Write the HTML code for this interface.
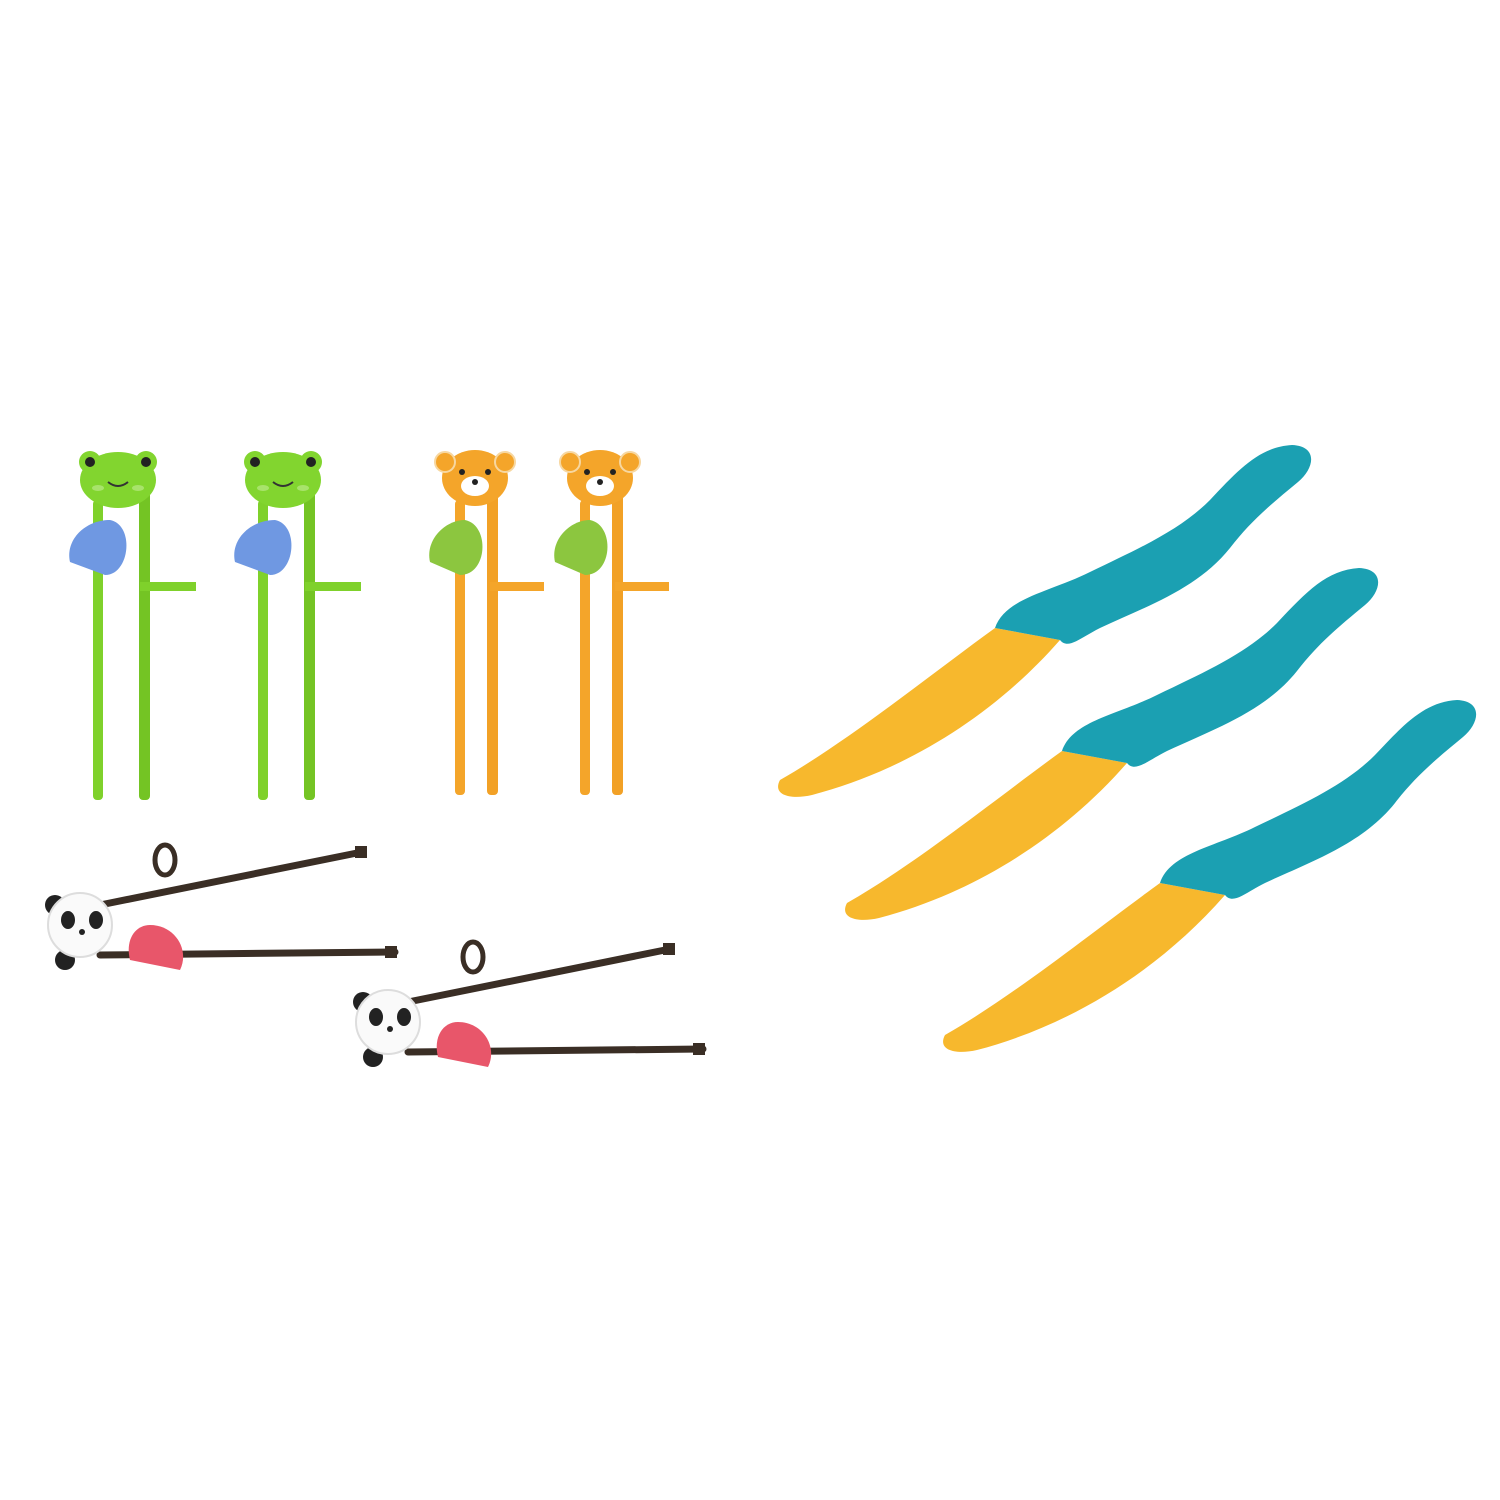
<!DOCTYPE html>
<html><head><meta charset="utf-8"><style>html,body{margin:0;padding:0;background:#fff}svg{display:block}</style></head>
<body>
<svg width="1500" height="1500" viewBox="0 0 1500 1500">
<rect width="1500" height="1500" fill="#fff"/>
<defs>
 <g id="frog">
  <rect x="93" y="500" width="10" height="300" rx="4" fill="#7fd12b"/>
  <rect x="139" y="490" width="11" height="310" rx="4" fill="#74c424"/>
  <rect x="140" y="582" width="56" height="9" fill="#7fd12b"/>
  <path d="M110,520 C135,525 130,575 105,575 L70,562 C65,540 85,520 110,520Z" fill="#6f98e2"/>
  <ellipse cx="118" cy="480" rx="38" ry="28" fill="#82d52f"/>
  <circle cx="90" cy="462" r="11" fill="#82d52f"/><circle cx="90" cy="462" r="5" fill="#222"/>
  <circle cx="146" cy="462" r="11" fill="#82d52f"/><circle cx="146" cy="462" r="5" fill="#222"/>
  <path d="M108,482 Q118,490 128,482" stroke="#333" stroke-width="2" fill="none"/>
  <ellipse cx="98" cy="488" rx="6" ry="3" fill="#a8e36b"/><ellipse cx="138" cy="488" rx="6" ry="3" fill="#a8e36b"/>
 </g>
 <g id="bear">
  <rect x="455" y="500" width="10" height="295" rx="4" fill="#f4a52a"/>
  <rect x="487" y="490" width="11" height="305" rx="4" fill="#f2a126"/>
  <rect x="490" y="582" width="54" height="9" fill="#f4a52a"/>
  <path d="M465,520 C490,525 488,575 460,575 L430,562 C425,540 445,520 465,520Z" fill="#8cc63f"/>
  <ellipse cx="475" cy="478" rx="33" ry="28" fill="#f4a52a"/>
  <circle cx="445" cy="462" r="10" fill="#f4a52a" stroke="#f7d7a0" stroke-width="2"/>
  <circle cx="505" cy="462" r="10" fill="#f4a52a" stroke="#f7d7a0" stroke-width="2"/>
  <ellipse cx="475" cy="486" rx="14" ry="10" fill="#fff"/>
  <circle cx="462" cy="472" r="3" fill="#222"/><circle cx="488" cy="472" r="3" fill="#222"/>
  <circle cx="475" cy="482" r="3" fill="#222"/>
 </g>
 <g id="panda">
  <line x1="100" y1="905" x2="362" y2="852" stroke="#3a2e25" stroke-width="7" stroke-linecap="round"/>
  <line x1="100" y1="955" x2="395" y2="952" stroke="#3a2e25" stroke-width="7" stroke-linecap="round"/>
  <rect x="355" y="846" width="12" height="12" fill="#3a2e25"/><rect x="385" y="946" width="12" height="12" fill="#3a2e25"/>
  <ellipse cx="165" cy="860" rx="10" ry="15" fill="none" stroke="#3a2e25" stroke-width="5"/>
  <path d="M150,925 C175,925 190,950 180,970 L130,960 C125,940 135,925 150,925Z" fill="#e8566a"/>
  <circle cx="55" cy="905" r="10" fill="#222"/><circle cx="65" cy="960" r="10" fill="#222"/>
  <circle cx="80" cy="925" r="32" fill="#fafafa" stroke="#ddd" stroke-width="2"/>
  <ellipse cx="68" cy="920" rx="7" ry="9" fill="#222"/><ellipse cx="96" cy="920" rx="7" ry="9" fill="#222"/>
  <circle cx="82" cy="932" r="3" fill="#222"/>
 </g>
 <g id="knife">
  <path d="M1060,640 L995,628 C930,675 850,740 780,780 C772,795 790,800 812,795 C900,772 990,720 1060,640Z" fill="#f7b82d"/>
  <path d="M995,628 C1005,598 1050,592 1090,572 C1140,548 1180,530 1210,500 C1240,468 1260,447 1292,445 C1318,446 1315,468 1298,482 C1270,505 1250,522 1230,548 C1198,588 1150,605 1100,628 C1080,638 1068,650 1060,640Z" fill="#1ba0b2"/>
 </g>
</defs>
<use href="#frog"/>
<use href="#frog" x="165"/>
<use href="#bear"/>
<use href="#bear" x="125"/>
<use href="#panda"/>
<use href="#panda" x="308" y="97"/>
<use href="#knife"/>
<use href="#knife" x="67" y="123"/>
<use href="#knife" x="165" y="255"/>
</svg>
</body></html>
